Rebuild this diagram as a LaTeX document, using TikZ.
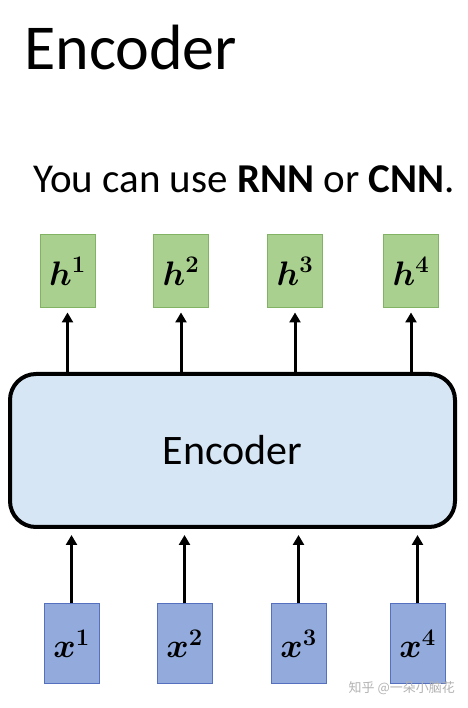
\documentclass[tikz,border=0pt]{standalone}
\usepackage{fix-cm}
\usepackage{amsmath,bm}
\usepackage[no-math]{fontspec}
\setmainfont{Carlito}
\newfontfamily\cjk{Noto Sans CJK SC}
\usetikzlibrary{arrows.meta}
\definecolor{enc_fill}{RGB}{214,230,245}
\definecolor{h_fill}{RGB}{169,208,142}
\definecolor{h_line}{RGB}{130,178,100}
\definecolor{x_fill}{RGB}{146,170,220}
\definecolor{x_line}{RGB}{84,112,190}
\tikzset{
  hbox/.style={draw=h_line, fill=h_fill, line width=1pt, minimum width=55pt, minimum height=73pt, inner sep=0pt, font=\fontsize{34}{40}\selectfont},
  xbox/.style={draw=x_line, fill=x_fill, line width=1pt, minimum width=55pt, minimum height=80pt, inner sep=0pt, font=\fontsize{34}{40}\selectfont},
  flow/.style={line width=3pt, -{Triangle[width=11pt,length=10pt]}}
}

\begin{document}
\begin{tikzpicture}[x=1pt, y=1pt]
\useasboundingbox (0,0) rectangle (467,708);

% titles
\node[anchor=base west, inner sep=0pt, font=\fontsize{64}{70}\selectfont] (title) at (24,638) {Encoder};
\node[anchor=base west, inner sep=0pt, font=\fontsize{41}{48}\selectfont] (note) at (33,515) {You can use \textbf{RNN} or \textbf{CNN}.};

% encoder block
\node[draw, line width=4pt, fill=enc_fill, rounded corners=26pt, minimum width=445pt, minimum height=153pt, font=\fontsize{42}{48}\selectfont] (enc) at (232.5,257.5) {Encoder};

% outputs
\node[hbox] (h1) at (67.5,436.5) {$\bm{h}^{\mathbf{1}}$};
\node[hbox] (h2) at (181,436.5) {$\bm{h}^{\mathbf{2}}$};
\node[hbox] (h3) at (295,436.5) {$\bm{h}^{\mathbf{3}}$};
\node[hbox] (h4) at (411,436.5) {$\bm{h}^{\mathbf{4}}$};

% inputs
\node[xbox] (x1) at (71.5,64) {$\bm{x}^{\mathbf{1}}$};
\node[xbox] (x2) at (184.5,64) {$\bm{x}^{\mathbf{2}}$};
\node[xbox] (x3) at (298.5,64) {$\bm{x}^{\mathbf{3}}$};
\node[xbox] (x4) at (417.5,64) {$\bm{x}^{\mathbf{4}}$};

\draw[flow] (h1 |- enc.north) -- ([yshift=-4pt]h1.south);
\draw[flow] (h2 |- enc.north) -- ([yshift=-4pt]h2.south);
\draw[flow] (h3 |- enc.north) -- ([yshift=-4pt]h3.south);
\draw[flow] (h4 |- enc.north) -- ([yshift=-4pt]h4.south);

\draw[flow] (x1.north) -- ([yshift=-6pt]x1 |- enc.south);
\draw[flow] (x2.north) -- ([yshift=-6pt]x2 |- enc.south);
\draw[flow] (x3.north) -- ([yshift=-6pt]x3 |- enc.south);
\draw[flow] (x4.north) -- ([yshift=-6pt]x4 |- enc.south);

% watermark
\node[anchor=base east, inner sep=0pt, text=black!30, font=\cjk\fontsize{13}{15}\selectfont] (mark) at (455,16) {知乎 @一朵小脑花};
\end{tikzpicture}
\end{document}
